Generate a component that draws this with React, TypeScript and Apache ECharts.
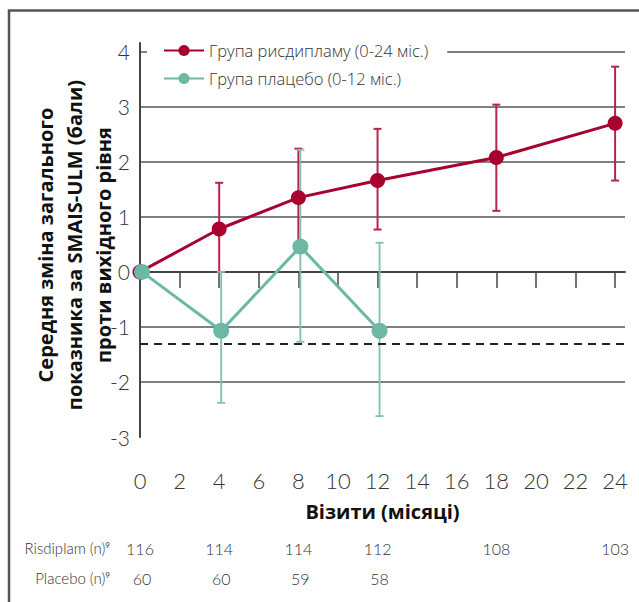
import React, { useEffect, useRef } from "react";
import * as echarts from "echarts";

// ---- data ----
const X_TICK_LABELS = [0, 2, 4, 6, 8, 10, 12, 14, 16, 18, 20, 22, 24];
const X_TICKS = [2, 4, 6, 8, 10, 12, 14, 16, 18, 20, 22, 24];
const Y_TICK_LABELS = [-3, -2, -1, 0, 1, 2, 3, 4];

const RIS_NAME = "Група рисдипламу (0-24 міс.)";
const PLA_NAME = "Група плацебо (0-12 міс.)";

const risMonths = [0, 4, 8, 12, 18, 24];
const risMean = [0, 0.78, 1.35, 1.66, 2.08, 2.7];
const risUpper = [null, 1.62, 2.24, 2.6, 3.04, 3.73];
const risLower = [null, 0.0, 0.46, 0.77, 1.11, 1.66];
const risN = [116, 114, 114, 112, 108, 103];

const plaMonths = [0, 4, 8, 12];
const plaMean = [0, -1.07, 0.46, -1.07];
const plaUpper = [null, 0.0, 2.22, 0.53];
const plaLower = [null, -2.38, -1.27, -2.62];
const plaN = [60, 60, 59, 58];

const REF_LINE = -1.3;

// ---- styles ----
const RED = "#A8002F";
const RED_BAR = "#B3264A";
const TEAL = "#6DB8A5";
const TEAL_BAR = "#7FC1B1";
const GRID = "#555555";
const TXT = "#333333";
const FONT = "Lato, 'Open Sans', 'Noto Sans', sans-serif";
const FONT_WIDE = "'Open Sans', 'Noto Sans', sans-serif";

function errData(m: number[], up: (number | null)[], lo: (number | null)[]) {
  const out: number[][] = [];
  m.forEach((x, i) => {
    if (up[i] != null && lo[i] != null) out.push([x, up[i] as number, lo[i] as number]);
  });
  return out;
}

function makeErrRender(color: string, width: number) {
  return (params: any, api: any) => {
    const x = api.value(0);
    const top = api.coord([x, api.value(1)]);
    const bot = api.coord([x, api.value(2)]);
    const hw = 4;
    const style = { stroke: color, lineWidth: width };
    return {
      type: "group",
      children: [
        { type: "line", shape: { x1: top[0], y1: top[1], x2: bot[0], y2: bot[1] }, style },
        { type: "line", shape: { x1: top[0] - hw, y1: top[1], x2: top[0] + hw, y2: top[1] }, style },
        { type: "line", shape: { x1: bot[0] - hw, y1: bot[1], x2: bot[0] + hw, y2: bot[1] }, style },
      ],
    };
  };
}

const nLookup = (months: number[], ns: number[]) => (v: number) => {
  const i = months.indexOf(v);
  return i >= 0 ? String(ns[i]) : "";
};

export default function App() {
  const ref = useRef<HTMLDivElement>(null);
  useEffect(() => {
    if (!ref.current) return;
    const chart = echarts.init(ref.current, null, { renderer: "svg" });
    const gridBase = { top: 43, bottom: 165 };
    const option: any = {
      animation: false,
      backgroundColor: "#ffffff",
      textStyle: { fontFamily: FONT },
      grid: [
        { ...gridBase, left: 140, right: 14 },
        { ...gridBase, left: 142, right: 12 },
      ],
      legend: {
        data: [RIS_NAME, PLA_NAME],
        orient: "vertical",
        left: 147,
        top: 38,
        padding: [4, 19, 4, 16],
        backgroundColor: "#ffffff",
        itemWidth: 40,
        itemHeight: 14,
        itemGap: 11,
        textStyle: { fontFamily: FONT_WIDE, fontSize: 16.5, color: TXT, fontWeight: 300 },
      },
      xAxis: [
        {
          gridIndex: 0,
          type: "value",
          min: 0,
          max: 24.5,
          interval: 2,
          name: "Візити (місяці)",
          nameLocation: "middle",
          nameGap: 64,
          nameTextStyle: { fontFamily: FONT_WIDE, fontSize: 20, fontWeight: "bold", color: "#111" },
          axisLine: { show: true, lineStyle: { color: "#444", width: 2 } },
          axisTick: { show: true, length: 16, customValues: X_TICKS, lineStyle: { color: "#444", width: 1.5 } },
          axisLabel: { customValues: X_TICK_LABELS, margin: 32, fontSize: 22, color: TXT, fontWeight: 300, fontFamily: FONT },
          splitLine: { show: false },
        },
        {
          gridIndex: 1,
          type: "value",
          min: 0,
          max: 24.5,
          show: false,
        },
        {
          gridIndex: 0,
          type: "value",
          min: 0,
          max: 24.5,
          position: "bottom",
          offset: 103,
          axisLine: { show: false },
          axisTick: { show: false },
          splitLine: { show: false },
          axisLabel: {
            customValues: risMonths,
            margin: 0,
            fontSize: 16,
            color: TXT,
            fontWeight: 300,
            fontFamily: FONT,
            formatter: nLookup(risMonths, risN),
          },
        },
        {
          gridIndex: 1,
          type: "value",
          min: 0,
          max: 24.5,
          position: "bottom",
          offset: 133,
          axisLine: { show: false },
          axisTick: { show: false },
          splitLine: { show: false },
          axisLabel: {
            customValues: plaMonths,
            margin: 0,
            fontSize: 16,
            color: TXT,
            fontWeight: 300,
            fontFamily: FONT,
            formatter: nLookup(plaMonths, plaN),
          },
        },
      ],
      yAxis: [
        {
          gridIndex: 0,
          type: "value",
          min: -3,
          max: 4.16,
          interval: 1,
          axisLine: { show: true, lineStyle: { color: "#444", width: 2 } },
          axisTick: { show: false },
          axisLabel: { customValues: Y_TICK_LABELS, margin: 10, fontSize: 21, color: TXT, fontWeight: 300, fontFamily: FONT },
          splitLine: { show: true, showMaxLine: false, showMinLine: false, lineStyle: { color: GRID, width: 1.5 } },
        },
        { gridIndex: 1, type: "value", min: -3, max: 4.16, show: false },
      ],
      graphic: [
        {
          type: "polyline",
          shape: { points: [[9, 602], [9, 10.5], [639, 10.5]] },
          style: { stroke: "#555", lineWidth: 2.5, fill: "none" },
          z: 10,
        },
        {
          type: "text",
          x: 74,
          y: 245,
          rotation: Math.PI / 2,
          style: {
            text: "Середня зміна загального\nпоказника за SMAIS-ULM (бали)\nпроти вихідного рівня",
            align: "center",
            verticalAlign: "middle",
            font: `bold 20px ${FONT_WIDE}`,
            lineHeight: 29,
            fill: "#111",
          },
        },
        {
          type: "text",
          x: 110,
          y: 548,
          style: {
            text: "Risdiplam (n){s|9}",
            align: "right",
            verticalAlign: "middle",
            fontFamily: FONT,
            fontSize: 15,
            fontWeight: 300,
            fill: TXT,
            rich: { s: { fontSize: 8, verticalAlign: "top", fill: TXT, fontFamily: FONT } },
          },
        },
        {
          type: "text",
          x: 110,
          y: 578,
          style: {
            text: "Placebo (n){s|9}",
            align: "right",
            verticalAlign: "middle",
            fontFamily: FONT,
            fontSize: 15,
            fontWeight: 300,
            fill: TXT,
            rich: { s: { fontSize: 8, verticalAlign: "top", fill: TXT, fontFamily: FONT } },
          },
        },
      ],
      series: [
        {
          name: "risErr",
          type: "custom",
          xAxisIndex: 0,
          yAxisIndex: 0,
          renderItem: makeErrRender(RED_BAR, 2),
          data: errData(risMonths, risUpper, risLower),
          encode: { x: 0, y: [1, 2] },
          z: 1,
        },
        {
          name: "plaErr",
          type: "custom",
          xAxisIndex: 1,
          yAxisIndex: 1,
          renderItem: makeErrRender(TEAL_BAR, 1.8),
          data: errData(plaMonths, plaUpper, plaLower),
          encode: { x: 0, y: [1, 2] },
          z: 1,
        },
        {
          name: RIS_NAME,
          type: "line",
          xAxisIndex: 0,
          yAxisIndex: 0,
          data: risMonths.map((m, i) => [m, risMean[i]]),
          symbol: "circle",
          symbolSize: 15,
          color: RED,
          lineStyle: { color: RED, width: 3 },
          itemStyle: { color: RED },
          z: 3,
          markLine: {
            silent: true,
            symbol: "none",
            label: { show: false },
            lineStyle: { color: "#222", type: [8, 6], width: 2 },
            data: [{ yAxis: REF_LINE }],
          },
        },
        {
          name: PLA_NAME,
          type: "line",
          xAxisIndex: 1,
          yAxisIndex: 1,
          data: plaMonths.map((m, i) => [m, plaMean[i]]),
          symbol: "circle",
          symbolSize: 16,
          color: TEAL,
          lineStyle: { color: TEAL, width: 3 },
          itemStyle: { color: TEAL },
          z: 4,
        },
      ],
    };
    chart.setOption(option);
    return () => chart.dispose();
  }, []);
  return (
    <div
      ref={ref}
      style={{ position: "fixed", left: 0, top: 0, width: 639, height: 602 }}
    />
  );
}
